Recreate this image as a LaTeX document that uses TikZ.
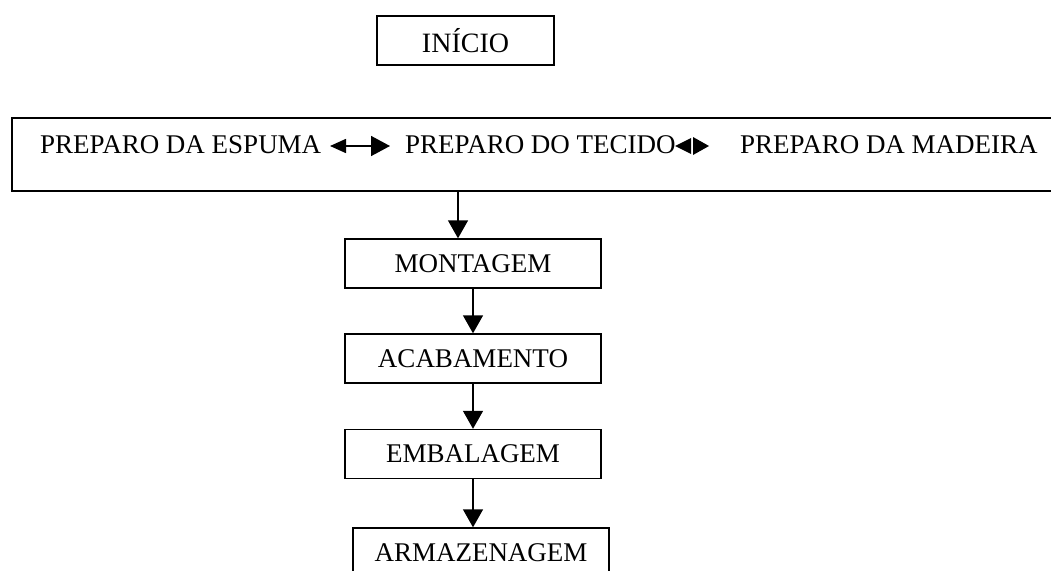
\documentclass[tikz,border=0pt]{standalone}
\usepackage{fontspec}
\setmainfont{Liberation Serif}
\usetikzlibrary{arrows.meta}
\begin{document}
\begin{tikzpicture}[x=1pt,y=-1pt,
  box/.style={draw, line width=1.4pt, inner sep=0pt, minimum height=49pt, font=\fontsize{27}{30}\selectfont},
  lbl/.style={inner sep=0pt, anchor=base west, font=\fontsize{27}{30}\selectfont},
  flow/.style={line width=1.4pt, -{Triangle[width=20pt,length=18pt]}}]
\useasboundingbox (0,0) rectangle (1051,570);
\fill[white] (0,0) rectangle (1051,570);
\node[box, minimum width=177pt, font=\fontsize{28}{30}\selectfont] (ini) at (465.5,40.5) {INÍCIO};
\node[draw, line width=1.4pt, inner sep=0pt, minimum width=1053pt, minimum height=73pt] (prep) at (538.5,154.5) {};
\node[lbl] (esp) at (40,153) {PREPARO DA ESPUMA};
\node[lbl] (tec) at (405,153) {PREPARO DO TECIDO};
\node[lbl] (mad) at (740,153) {PREPARO DA MADEIRA};
\coordinate (a1l) at (330,146);
\coordinate (a1r) at (390,146);
\draw[line width=1.6pt, {Triangle[width=14pt,length=16pt]}-{Triangle[width=20pt,length=19pt]}] (a1l) -- (a1r);
\fill (675,146) -- (691,138) -- (691,154) -- cycle;
\fill (709,146) -- (693,137) -- (693,155) -- cycle;
\node[box, minimum width=256pt] (mont) at (473,263.5) {MONTAGEM};
\node[box, minimum width=256pt] (acab) at (473,358.5) {ACABAMENTO};
\node[box, minimum width=256pt] (emb) at (473,454) {EMBALAGEM};
\node[box, minimum width=256pt] (arm) at (481,552.5) {ARMAZENAGEM};
\draw[flow] ([xshift=-15pt]mont.north |- prep.south) -- ([xshift=-15pt]mont.north);
\draw[flow] (mont.south) -- (acab.north);
\draw[flow] (acab.south) -- (emb.north);
\draw[flow] (emb.south) -- (emb.south |- arm.north);
\end{tikzpicture}
\end{document}
